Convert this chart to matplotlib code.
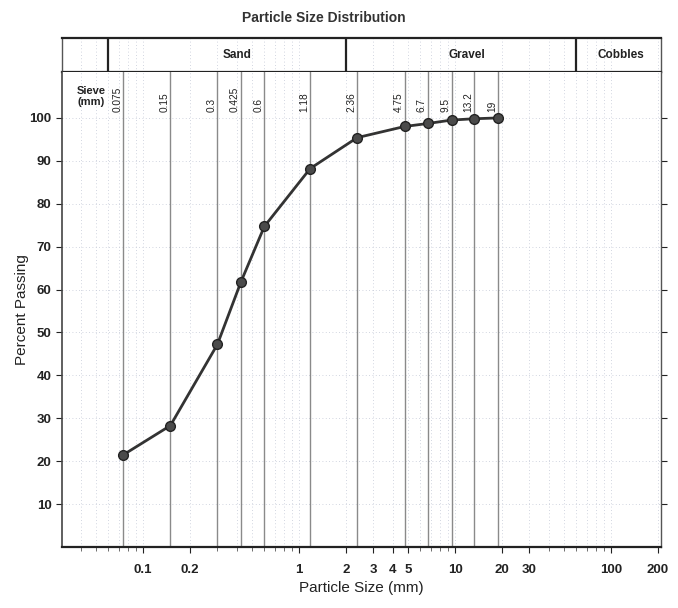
import matplotlib
matplotlib.use("Agg")
import matplotlib.pyplot as plt
from matplotlib.ticker import FixedLocator, NullFormatter, LogLocator
import numpy as np

plt.rcParams['font.family'] = ['Liberation Sans', 'DejaVu Sans']

sieve_sizes = [0.075, 0.15, 0.3, 0.425, 0.6, 1.18, 2.36, 4.75, 6.7, 9.5, 13.2, 19]
sieve_labels = ["0.075", "0.15", "0.3", "0.425", "0.6", "1.18", "2.36", "4.75", "6.7", "9.5", "13.2", "19"]
percent_passing = [21.5, 28.3, 47.2, 61.8, 74.7, 88.2, 95.4, 98.0, 98.7, 99.5, 99.8, 100.0]

zone_bounds = [0.06, 2, 60]
zone_names = ["Sand", "Gravel", "Cobbles"]
zone_label_x = [0.40, 12.0, 115]

x_ticks = [0.1, 0.2, 1, 2, 3, 4, 5, 10, 20, 30, 100, 200]
x_tick_labels = ["0.1", "0.2", "1", "2", "3", "4", "5", "10", "20", "30", "100", "200"]
y_ticks = [10, 20, 30, 40, 50, 60, 70, 80, 90, 100]

XMIN, XMAX = 0.0303, 209

fig = plt.figure(figsize=(6.78, 6.08), dpi=100)
L = 62 / 678
R = 661 / 678
ax_h = fig.add_axes([L, 1 - 72 / 608, R - L, (72 - 38) / 608])
ax = fig.add_axes([L, 1 - 547 / 608, R - L, (547 - 72) / 608])

grid_col = "#c3c8d6"
minor_pos = LogLocator(base=10, subs=np.arange(1, 10)).tick_values(XMIN, XMAX)
minor_pos = [m for m in minor_pos if XMIN < m < XMAX]

# header
ax_h.set_xscale('log')
ax_h.set_xlim(XMIN, XMAX)
ax_h.set_ylim(0, 1)
ax_h.set_xticks([])
ax_h.set_yticks([])
ax_h.minorticks_off()
for m in minor_pos:
    ax_h.axvline(m, color=grid_col, lw=0.6, ls=(0, (1, 3)), zorder=0)
for b in zone_bounds:
    ax_h.axvline(b, color="#222222", lw=1.6)
for name, xc in zip(zone_names, zone_label_x):
    ax_h.text(xc, 0.5, name, ha='center', va='center', fontsize=8.5,
              fontweight='bold', color="#222222")
for s in ['top', 'bottom']:
    ax_h.spines[s].set_linewidth(1.6)
    ax_h.spines[s].set_color("#222222")
for s in ['left', 'right']:
    ax_h.spines[s].set_linewidth(1.0)
    ax_h.spines[s].set_color("#555555")

# main plot
ax.set_xscale('log')
ax.set_xlim(XMIN, XMAX)
ax.set_ylim(0, 110.7)

for m in minor_pos:
    ax.axvline(m, color=grid_col, lw=0.6, ls=(0, (1, 3)), zorder=0)
for yv in y_ticks:
    ax.axhline(yv, color=grid_col, lw=0.6, ls=(0, (1, 3)), zorder=0)

for s in sieve_sizes:
    ax.axvline(s, color="#8a8a8a", lw=1.0, zorder=1)

ax.plot(sieve_sizes, percent_passing, color="#333333", lw=2, marker='o',
        markersize=7, markerfacecolor="#4a4a4a", markeredgecolor="#222222",
        markeredgewidth=1.0, zorder=3)

for s, lab in zip(sieve_sizes, sieve_labels):
    ax.text(s * 0.985, 101.4, lab, rotation=90, ha='right', va='bottom',
            fontsize=7.3, color="#222222")
ax.text(0.0465, 102.6, "Sieve\n(mm)", ha='center', va='bottom', fontsize=8,
        fontweight='bold', color="#222222", linespacing=1.05)

ax.xaxis.set_major_locator(FixedLocator(x_ticks))
ax.set_xticklabels(x_tick_labels)
ax.xaxis.set_minor_locator(LogLocator(base=10, subs=np.arange(1, 10)))
ax.xaxis.set_minor_formatter(NullFormatter())
ax.tick_params(axis='x', which='major', direction='out', length=4, width=0.8,
               pad=8, labelsize=9.5, colors="#222222")
ax.tick_params(axis='x', which='minor', direction='out', length=3, width=0.6,
               colors="#555555")
for t in ax.get_xticklabels():
    t.set_fontweight('bold')

ax.set_yticks(y_ticks)
ax.tick_params(axis='y', direction='out', length=4, width=0.8, labelsize=9.5,
               colors="#222222", right=True)
for t in ax.get_yticklabels():
    t.set_fontweight('bold')

ax.spines['top'].set_visible(False)
ax.spines['bottom'].set_linewidth(1.6)
ax.spines['bottom'].set_color("#222222")
ax.spines['left'].set_linewidth(1.2)
ax.spines['left'].set_color("#444444")
ax.spines['right'].set_linewidth(1.0)
ax.spines['right'].set_color("#555555")

ax.set_xlabel("Particle Size (mm)", fontsize=11, color="#222222", labelpad=4)
ax.set_ylabel("Percent Passing", fontsize=11, color="#222222", labelpad=0)

fig.text(324 / 678, 1 - 18 / 608, "Particle Size Distribution",
         ha='center', va='center', fontsize=10, fontweight='bold', color="#333333")

fig.savefig("out.png", dpi=100)
